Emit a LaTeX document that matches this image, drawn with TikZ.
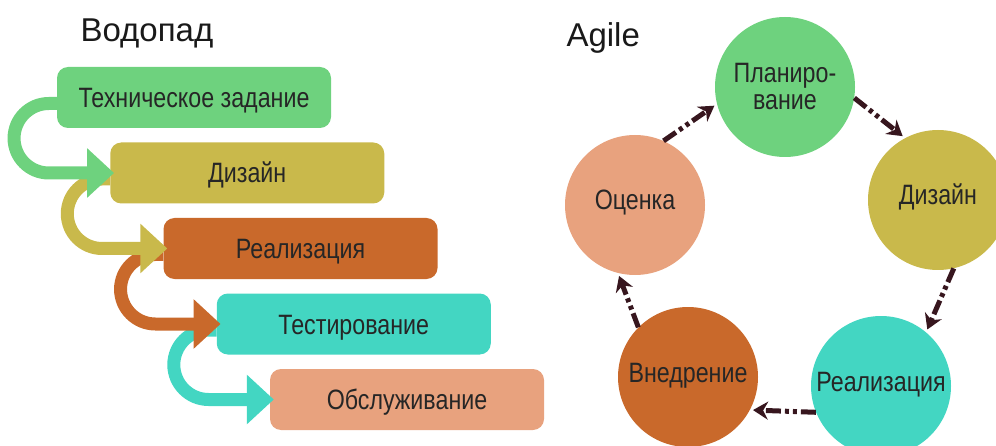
\documentclass[tikz,border=0pt]{standalone}
\usepackage{fontspec}
\setmainfont{Liberation Sans}
\newfontfamily\cajafont[FakeStretch=0.83]{Liberation Sans}
\usetikzlibrary{arrows.meta}

\definecolor{verde}{RGB}{110,210,126}
\definecolor{oliva}{RGB}{201,185,75}
\definecolor{naranja}{RGB}{201,105,43}
\definecolor{turquesa}{RGB}{67,214,194}
\definecolor{salmon}{RGB}{232,162,126}
\definecolor{oscuro}{RGB}{55,22,30}

\begin{document}
\begin{tikzpicture}[x=1pt,y=1pt,
    caja/.style={rounded corners=11pt, minimum width=274pt, minimum height=61pt,
      inner sep=0pt, text=black!85, font=\cajafont\fontsize{28}{27}\selectfont,
      text height=20pt, text depth=0pt},
    circulo/.style={circle, minimum size=140pt, inner sep=0pt, text=black!85,
      font=\cajafont\fontsize{28}{27}\selectfont},
    centrado/.style={text height=20pt, text depth=10pt},
    onda/.style={line width=13pt, -{Triangle[length=27pt,width=48pt]}},
    flecha/.style={draw=oscuro, line width=5pt, shorten >=3pt,
      dash pattern=on 15pt off 4pt on 4pt off 4pt on 4pt off 4pt,
      -{Stealth[length=15pt,width=18pt]}},
    titulo/.style={anchor=base west, text=black!90, font=\fontsize{33}{33}\selectfont}]
    % Marco: tamaño de la imagen
    \useasboundingbox (0,0) rectangle (996,445);
    \clip (0,0) rectangle (996,445);

    % Paso entre las cajas de la cascada
    \def\dx{53.25}
    \def\dy{75.5}
    \def\rr{34.75}   % radio de las flechas curvas

    % Títulos
    \node[titulo] (tcascada) at (77,403) {Водопад};
    \node[titulo] (tagil) at (563,398) {Agile};

    % Cascada
    \node[caja, fill=verde]    (tz)   at (194, 347.5)                {Техническое задание};
    \node[caja, fill=oliva]    (dis)  at ({194+\dx}, {347.5-\dy})    {Дизайн};
    \node[caja, fill=naranja]  (real) at ({194+2*\dx}, {347.5-2*\dy}) {Реализация};
    \node[caja, fill=turquesa] (test) at ({194+3*\dx}, {347.5-3*\dy}) {Тестирование};
    \node[caja, fill=salmon]   (obs)  at ({194+4*\dx}, {347.5-4*\dy}) {Обслуживание};

    % Flechas curvas (de abajo hacia arriba para que cada punta tape la siguiente)
    \draw[onda, color=turquesa] ([yshift=-6]test.west) -- ++(-8,0)
      arc[start angle=90, end angle=270, radius=\rr] -- ([xshift=4]obs.west);
    \draw[onda, color=naranja] ([yshift=-6]real.west) -- ++(-8,0)
      arc[start angle=90, end angle=270, radius=\rr] -- ([xshift=4]test.west);
    \draw[onda, color=oliva] ([yshift=-6]dis.west) -- ++(-8,0)
      arc[start angle=90, end angle=270, radius=\rr] -- ([xshift=4]real.west);
    \draw[onda, color=verde] ([yshift=-6]tz.west) -- ++(-8,0)
      arc[start angle=90, end angle=270, radius=\rr] -- ([xshift=4]dis.west);

    % Ciclo Agile
    \node[circulo, fill=verde, align=center] (plan) at (785,358) {Планиро-\\вание};
    \node[circulo, centrado, fill=oliva]    (adis)  at (938,245) {Дизайн};
    \node[circulo, centrado, fill=turquesa] (areal) at (881,59)  {Реализация};
    \node[circulo, centrado, fill=naranja]  (vned)  at (688,68)  {Внедрение};
    \node[circulo, centrado, fill=salmon]   (ocen)  at (635,240) {Оценка};

    % Flechas punteadas
    \draw[flecha] (ocen.66) -- (plan.194);
    \draw[flecha] (plan.-9) -- (adis.118);
    \draw[flecha] (adis.-77) -- (areal.50);
    \draw[flecha] (areal.202) -- (vned.-28);
    \draw[flecha] (vned.135) -- (ocen.256);
\end{tikzpicture}
\end{document}
